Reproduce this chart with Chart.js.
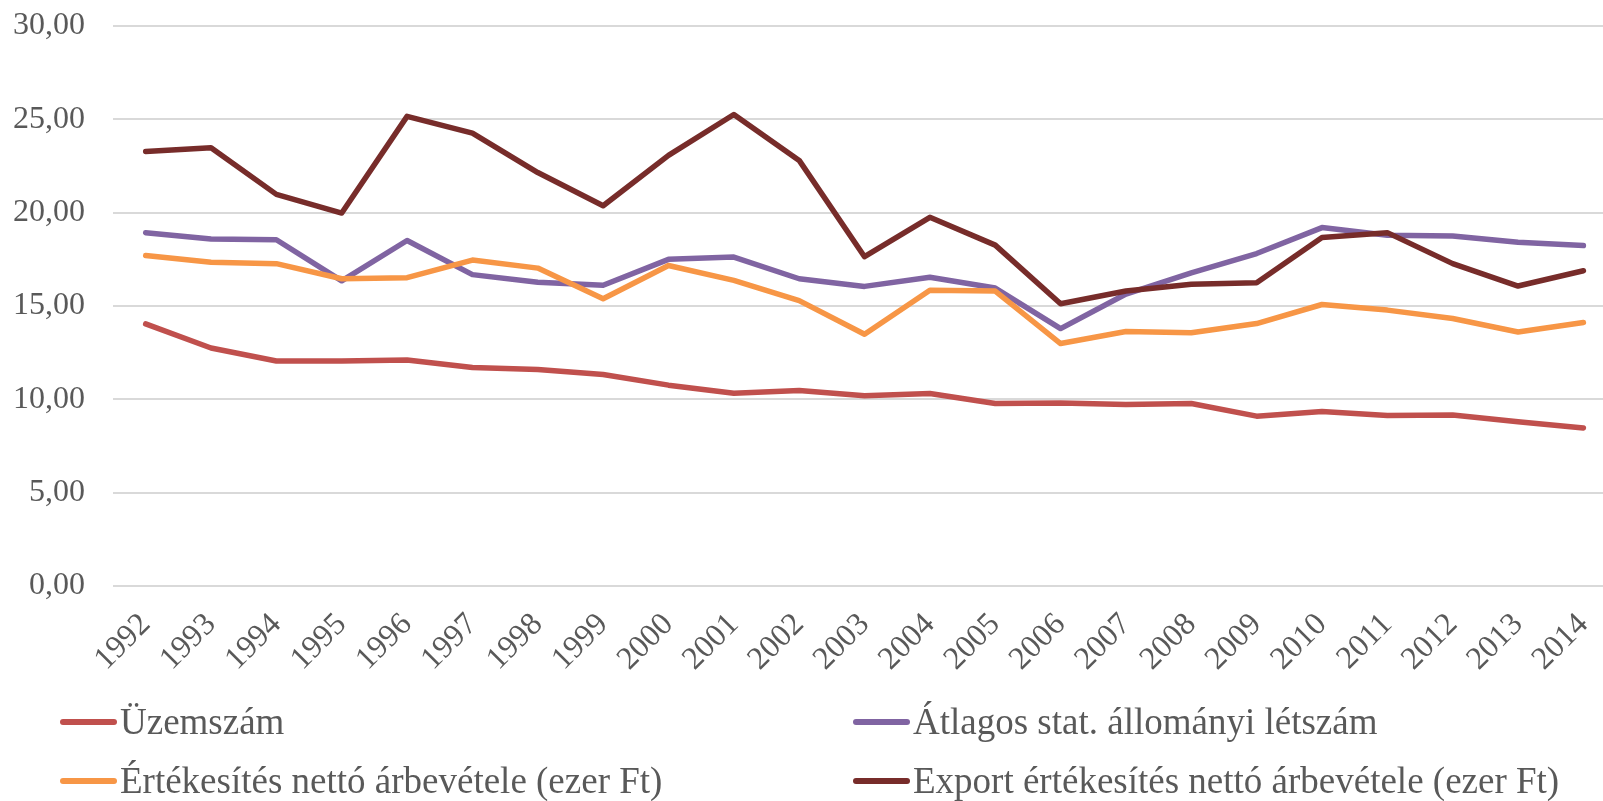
<!DOCTYPE html>
<html>
<head>
<meta charset="utf-8">
<script src="https://cdn.jsdelivr.net/npm/chart.js@4.4.1/dist/chart.umd.min.js"></script>
<style>
  html, body { margin: 0; padding: 0; background: #ffffff; }
  #wrap { position: relative; width: 1603px; height: 801px; overflow: hidden; background: #fff; }
  #c { position: absolute; left: 0; top: 0; }
  .lg { position: absolute; height: 40px; line-height: 40px; font-family: "Liberation Serif", "Times New Roman", serif; font-size: 37px; color: #595959; white-space: nowrap; }
  .lg .mk { position: absolute; left: 0; top: 17px; width: 57px; height: 6px; border-radius: 3px; }
  .lg .tx { position: absolute; left: 60px; top: 0; }
</style>
</head>
<body>
<div id="wrap">
  <canvas id="c" width="1603" height="801"></canvas>
</div>
<script>
const years = [1992,1993,1994,1995,1996,1997,1998,1999,2000,2001,2002,2003,2004,2005,2006,2007,2008,2009,2010,2011,2012,2013,2014];

const uzemszam   = [14.04,12.75,12.05,12.05,12.11,11.70,11.60,11.33,10.76,10.33,10.47,10.19,10.31,9.78,9.80,9.72,9.78,9.10,9.35,9.14,9.16,8.80,8.46];
const letszam    = [18.93,18.59,18.55,16.35,18.51,16.68,16.27,16.11,17.50,17.62,16.46,16.05,16.54,15.96,13.79,15.64,16.78,17.81,19.20,18.79,18.75,18.42,18.24];
const arbevetel  = [17.70,17.34,17.27,16.46,16.52,17.46,17.03,15.39,17.17,16.37,15.29,13.49,15.84,15.80,12.99,13.63,13.57,14.06,15.08,14.78,14.33,13.61,14.12];
const exportArb  = [23.28,23.48,20.98,19.98,25.16,24.26,22.15,20.37,23.07,25.26,22.80,17.64,19.75,18.26,15.12,15.80,16.17,16.25,18.67,18.93,17.27,16.07,16.89];

const yTicks = [0,5,10,15,20,25,30];

const seriesNames  = ["Üzemszám", "Átlagos stat. állományi létszám", "Értékesítés nettó árbevétele (ezer Ft)", "Export értékesítés nettó árbevétele (ezer Ft)"];
const seriesColors = ["#C0504D", "#8064A2", "#F79646", "#772C2A"];
const seriesData   = [uzemszam, letszam, arbevetel, exportArb];

const FONT = "'Liberation Serif', 'Times New Roman', serif";

const datasets = seriesData.map((arr, i) => ({
  label: seriesNames[i],
  data: arr.map((v, k) => ({ x: years[k], y: v })),
  borderColor: seriesColors[i],
  backgroundColor: seriesColors[i],
  borderWidth: 5.5,
  borderCapStyle: 'round',
  borderJoinStyle: 'round',
  pointRadius: 0,
  tension: 0,
  fill: false,
  order: 4 - i
}));

new Chart(document.getElementById('c'), {
  type: 'line',
  data: { datasets },
  options: {
    responsive: false,
    animation: false,
    layout: { padding: { top: 26, right: 0, left: 0, bottom: 0 } },
    plugins: { legend: { display: false }, tooltip: { enabled: false } },
    scales: {
      x: {
        type: 'linear',
        min: 1991.5,
        max: 2014.3,
        afterBuildTicks: s => { s.ticks = years.map(v => ({ value: v })); },
        afterFit: s => { s.height = 215; s.paddingLeft = 0; s.paddingRight = 0; },
        grid: { display: false, drawTicks: false },
        border: { display: false },
        ticks: {
          autoSkip: false,
          maxRotation: 45,
          minRotation: 45,
          padding: 20,
          color: '#595959',
          font: { family: FONT, size: 32 },
          callback: v => String(v)
        }
      },
      y: {
        min: 0,
        max: 30,
        afterBuildTicks: s => { s.ticks = yTicks.map(v => ({ value: v })); },
        afterFit: s => { s.width = 113; s.paddingTop = 0; s.paddingBottom = 0; },
        grid: { color: '#D9D9D9', lineWidth: 2, drawTicks: false },
        border: { display: false },
        ticks: {
          padding: 28,
          color: '#595959',
          font: { family: FONT, size: 32 },
          callback: v => v.toFixed(2).replace('.', ',')
        }
      }
    }
  }
});

// HTML legend built from the series arrays
const legendPos = [[60, 702], [853, 702], [60, 761], [853, 761]];
const wrap = document.getElementById('wrap');
seriesNames.forEach((name, i) => {
  const d = document.createElement('div');
  d.className = 'lg';
  d.style.left = legendPos[i][0] + 'px';
  d.style.top = legendPos[i][1] + 'px';
  const m = document.createElement('span');
  m.className = 'mk';
  m.style.background = seriesColors[i];
  const t = document.createElement('span');
  t.className = 'tx';
  t.textContent = name;
  d.appendChild(m); d.appendChild(t);
  wrap.appendChild(d);
});
</script>
</body>
</html>
